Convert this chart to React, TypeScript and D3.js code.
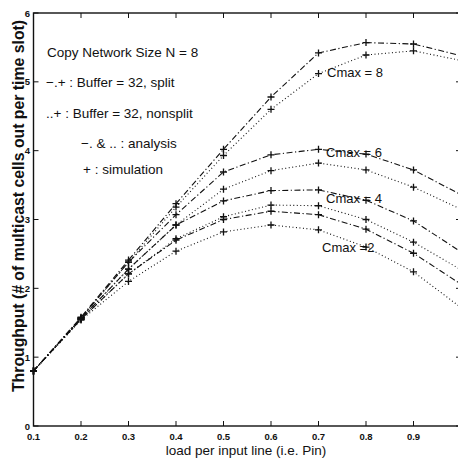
import * as d3 from 'd3';

// load per input line
const LOADS = [0.1, 0.2, 0.3, 0.4, 0.5, 0.6, 0.7, 0.8, 0.9, 1.0];

// throughput, buffer = 32
const SPLIT_C8 = [0.8, 1.58, 2.41, 3.23, 4.02, 4.78, 5.42, 5.57, 5.55, 5.38];
const NONSPLIT_C8 = [0.8, 1.57, 2.38, 3.18, 3.93, 4.6, 5.12, 5.39, 5.45, 5.31];
const SPLIT_C6 = [0.8, 1.57, 2.38, 3.07, 3.69, 3.94, 4.02, 3.95, 3.72, 3.36];
const NONSPLIT_C6 = [0.8, 1.56, 2.28, 2.92, 3.44, 3.71, 3.82, 3.72, 3.47, 3.15];
const SPLIT_C4 = [0.8, 1.56, 2.28, 2.92, 3.27, 3.42, 3.43, 3.28, 2.98, 2.53];
const NONSPLIT_C4 = [0.8, 1.55, 2.21, 2.72, 3.04, 3.21, 3.2, 3.0, 2.67, 2.27];
const SPLIT_C2 = [0.8, 1.55, 2.21, 2.7, 3.0, 3.12, 3.07, 2.86, 2.51, 2.06];
const NONSPLIT_C2 = [0.8, 1.54, 2.1, 2.54, 2.82, 2.92, 2.85, 2.6, 2.24, 1.72];

const SERIES = [
  { values: SPLIT_C8, split: true },
  { values: NONSPLIT_C8, split: false },
  { values: SPLIT_C6, split: true },
  { values: NONSPLIT_C6, split: false },
  { values: SPLIT_C4, split: true },
  { values: NONSPLIT_C4, split: false },
  { values: SPLIT_C2, split: true },
  { values: NONSPLIT_C2, split: false },
];

// simulation points only up to 0.9
const SIM_LOADS = LOADS.slice(0, 9);

const X_TICKS = [0.1, 0.2, 0.3, 0.4, 0.5, 0.6, 0.7, 0.8, 0.9];
const Y_TICKS = [0, 1, 2, 3, 4, 5, 6];

const LEGEND = [
  { text: 'Copy Network Size N = 8', x: 47, y: 57 },
  { text: '\u2212.+  : Buffer = 32, split', x: 46, y: 87 },
  { text: '..+  : Buffer = 32, nonsplit', x: 46, y: 118 },
  { text: '\u2212. & .. : analysis', x: 81, y: 148 },
  { text: '+  : simulation', x: 83, y: 174 },
];

const LABELS = [
  { text: 'Cmax = 8', x: 327, y: 77 },
  { text: 'Cmax = 6', x: 326, y: 157 },
  { text: 'Cmax = 4', x: 326, y: 203 },
  { text: 'Cmax =2', x: 322, y: 252 },
];

const W = 458;
const H = 465;
const FONT = '"Liberation Sans", Arial, sans-serif';

export default function App() {
  const x = d3.scaleLinear().domain([0.1, 1.0]).range([33.5, 461]);
  const y = d3.scaleLinear().domain([0, 6]).range([426, 13]);
  const line = d3.line<number>().x((_, i) => x(LOADS[i])).y(d => y(d));
  const left = x(0.1), right = x(1.0), top = y(6), bottom = y(0);
  const tk = 5;

  return (
    <svg width={W} height={H} style={{ position: 'absolute', left: 0, top: 0, background: '#fff' }}>
      {/* frame */}
      <rect x={left} y={top} width={right - left} height={bottom - top} fill="none" stroke="#111" strokeWidth={1.4} />
      {X_TICKS.map(t => (
        <g key={'x' + t}>
          <line x1={x(t)} x2={x(t)} y1={bottom} y2={bottom - tk} stroke="#111" />
          <line x1={x(t)} x2={x(t)} y1={top} y2={top + tk} stroke="#111" />
          <text x={x(t)} y={440} textAnchor="middle" fontFamily={FONT} fontSize={9.5} fontWeight="bold" fill="#111">
            {t.toFixed(1)}
          </text>
        </g>
      ))}
      {Y_TICKS.map(t => (
        <g key={'y' + t}>
          <line x1={left} x2={left + tk} y1={y(t)} y2={y(t)} stroke="#111" />
          <line x1={right} x2={right - tk} y1={y(t)} y2={y(t)} stroke="#111" />
          <text x={30} y={y(t) + 3.5} textAnchor="end" fontFamily={FONT} fontSize={9.5} fontWeight="bold" fill="#111">
            {t}
          </text>
        </g>
      ))}

      {/* curves */}
      {SERIES.map((s, i) => (
        <path
          key={'l' + i}
          d={line(s.values) || ''}
          fill="none"
          stroke="#111"
          strokeWidth={1.1}
          strokeDasharray={s.split ? '6,2.5,1.2,2.5' : '1,2.5'}
        />
      ))}
      {SERIES.map((s, i) =>
        SIM_LOADS.map((l, j) => {
          const cx = x(l), cy = y(s.values[j]);
          return (
            <path key={'p' + i + '-' + j} d={`M${cx - 3.5},${cy}H${cx + 3.5}M${cx},${cy - 3.5}V${cy + 3.5}`} stroke="#111" strokeWidth={1.3} />
          );
        })
      )}

      {/* annotations */}
      {LEGEND.map(l => (
        <text key={l.text} x={l.x} y={l.y} fontFamily={FONT} fontSize={13.5} fill="#111">{l.text}</text>
      ))}
      {LABELS.map(l => (
        <text key={l.text} x={l.x} y={l.y} fontFamily={FONT} fontSize={13} fill="#111">{l.text}</text>
      ))}

      <text x={246} y={455} textAnchor="middle" fontFamily={FONT} fontSize={13.5} fill="#111">
        load per input line (i.e. Pin)
      </text>
      <text
        transform={`translate(23.5,206) rotate(-90)`}
        textAnchor="middle"
        fontFamily={FONT}
        fontSize={15.8}
        fontWeight="bold"
        fill="#111"
      >
        Throughput (# of multicast cells out per time slot)
      </text>
    </svg>
  );
}
